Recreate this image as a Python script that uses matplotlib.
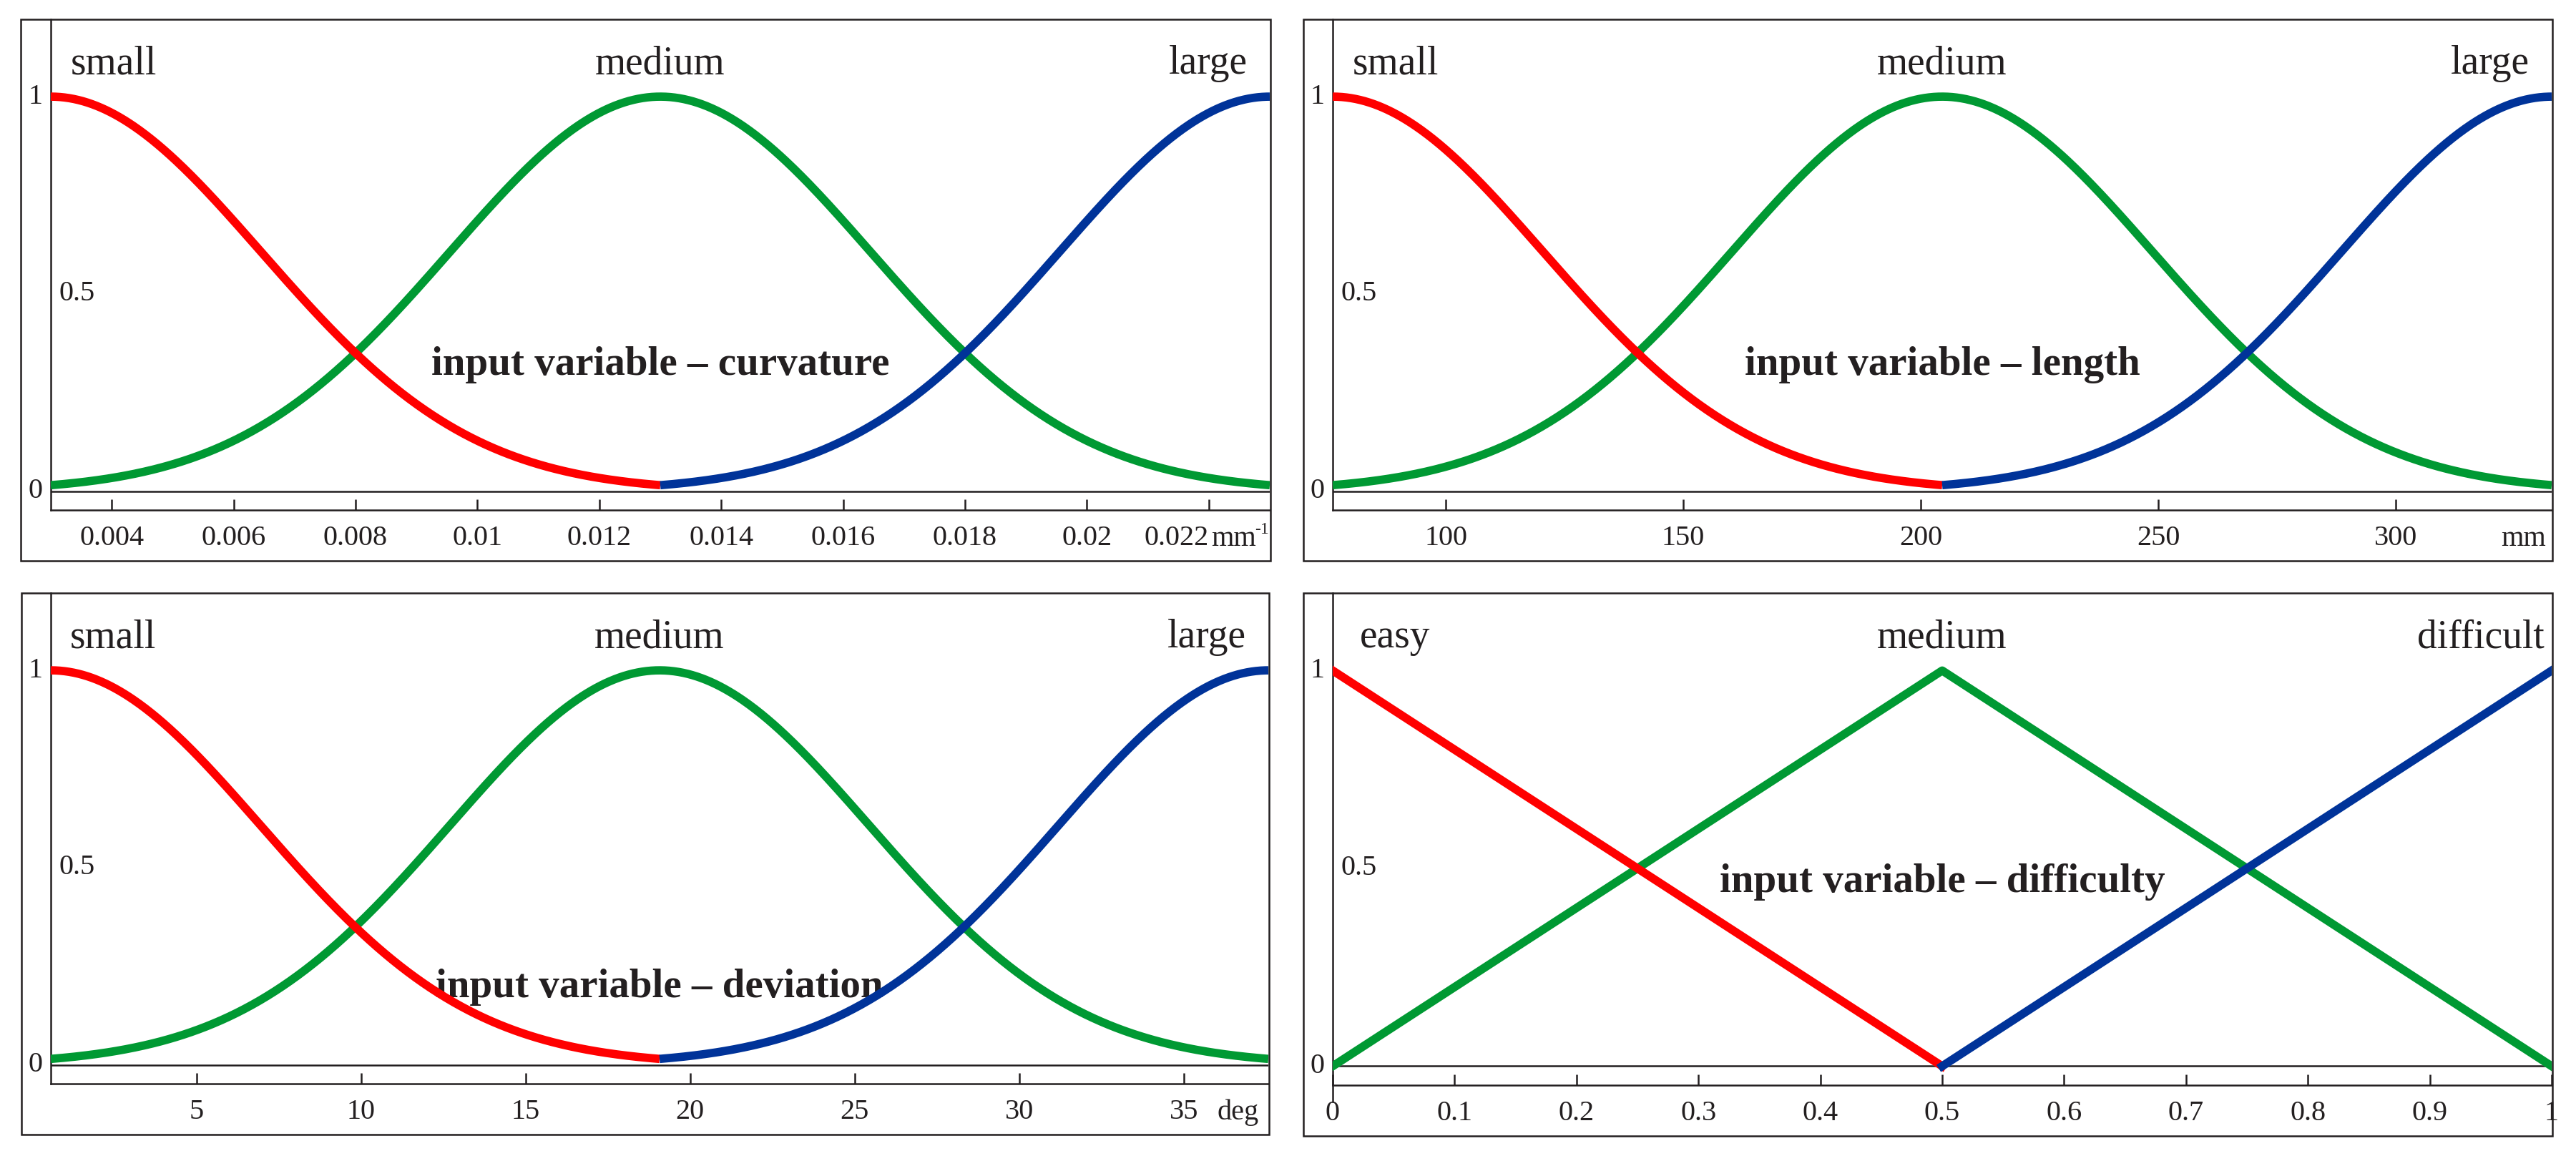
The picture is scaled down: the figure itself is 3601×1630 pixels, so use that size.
import numpy as np
import matplotlib
matplotlib.use("Agg")
import matplotlib.pyplot as plt
from matplotlib.patches import Rectangle
from matplotlib.transforms import blended_transform_factory

plt.rcParams['font.family'] = ['Liberation Serif', 'DejaVu Serif']

INK = '#231f20'
RED = '#ff0000'
GREEN = '#009933'
BLUE = '#003399'

# curvature (mm^-1): gaussian membership functions
curv_centers = [0.003, 0.013, 0.023]
curv_sigma = 0.00345
curv_ticks = [0.004, 0.006, 0.008, 0.010, 0.012, 0.014, 0.016, 0.018, 0.020, 0.022]
curv_ticklabels = ['0.004', '0.006', '0.008', '0.01', '0.012', '0.014', '0.016', '0.018', '0.02', '0.022']

# length (mm)
len_centers = [76.2, 204.5, 332.8]
len_sigma = 44.3
len_ticks = [100, 150, 200, 250, 300]
len_ticklabels = ['100', '150', '200', '250', '300']

# deviation (deg)
dev_centers = [0.57, 19.07, 37.57]
dev_sigma = 6.38
dev_ticks = [5, 10, 15, 20, 25, 30, 35]
dev_ticklabels = ['5', '10', '15', '20', '25', '30', '35']

# difficulty: triangular membership functions
diff_easy_x = [0, 0.5]
diff_easy_y = [1, 0]
diff_medium_x = [0, 0.5, 1]
diff_medium_y = [0, 1, 0]
diff_difficult_x = [0.5, 1]
diff_difficult_y = [0, 1]
diff_ticks = [0, 0.1, 0.2, 0.3, 0.4, 0.5, 0.6, 0.7, 0.8, 0.9, 1]
diff_ticklabels = ['0', '0.1', '0.2', '0.3', '0.4', '0.5', '0.6', '0.7', '0.8', '0.9', '1']

W, H = 3601, 1630
fig = plt.figure(figsize=(W / 100, H / 100), dpi=100)

YLIM = (-0.048, 1.196)
LW_FRAME = 1.8
LW_CURVE = 8.4


def add_panel(inner, outer):
    l, t, r, b = inner
    ax = fig.add_axes([l / W, 1 - b / H, (r - l) / W, (b - t) / H])
    ol, ot, orr, ob = outer
    fig.add_artist(Rectangle((ol / W, 1 - ob / H), (orr - ol) / W, (ob - ot) / H,
                             transform=fig.transFigure, fill=False,
                             lw=LW_FRAME, ec=INK, zorder=5))
    return ax


def setup(ax, xlim, ticks, ticklabels):
    ax.set_xlim(xlim)
    ax.set_ylim(YLIM)
    ax.spines['top'].set_visible(False)
    ax.spines['right'].set_visible(False)
    for s in ('left', 'bottom'):
        ax.spines[s].set_linewidth(LW_FRAME)
        ax.spines[s].set_color(INK)
    ax.axhline(0, color=INK, lw=LW_FRAME, zorder=1)
    ax.set_xticks(ticks, ticklabels)
    ax.set_yticks([])
    ax.tick_params(axis='x', direction='in', length=11, width=LW_FRAME,
                   pad=15, labelsize=29, colors=INK)
    tr = blended_transform_factory(ax.transAxes, ax.transData)
    ax.text(-0.0125, 1, '1', transform=tr, ha='center', va='center', fontsize=29, color=INK)
    ax.text(-0.0125, 0, '0', transform=tr, ha='center', va='center', fontsize=29, color=INK)
    ax.text(0.007, 0.5, '0.5', transform=tr, ha='left', va='center', fontsize=29, color=INK)
    return tr


def gauss(x, c, s):
    return np.exp(-(x - c) ** 2 / (2 * s ** 2))


def gauss_panel(ax, centers, sigma, labels, title, title_y):
    c0, c1, c2 = centers
    tr = setup(ax, (c0, c2), *labels)
    xs = np.linspace(c0, c1, 400)
    xm = np.linspace(c0, c2, 800)
    xl = np.linspace(c1, c2, 400)
    ax.plot(xm, gauss(xm, c1, sigma), color=GREEN, lw=LW_CURVE, solid_capstyle='butt', zorder=3)
    ax.plot(xs, gauss(xs, c0, sigma), color=RED, lw=LW_CURVE, solid_capstyle='butt', zorder=4)
    ax.plot(xl, gauss(xl, c2, sigma), color=BLUE, lw=LW_CURVE, solid_capstyle='butt', zorder=4)
    ax.text(0.016, 1.058, 'small', transform=tr, ha='left', va='baseline', fontsize=40, color=INK)
    ax.text(c1, 1.058, 'medium', ha='center', va='baseline', fontsize=40, color=INK)
    ax.text(0.982, 1.058, 'large', transform=tr, ha='right', va='baseline', fontsize=40, color=INK)
    ax.text(c1, title_y, title, ha='center', va='center', fontsize=41,
            fontweight='bold', color=INK)


# panel 1: curvature
ax1 = add_panel((71, 27, 1775, 713), (29, 27, 1776, 784))
gauss_panel(ax1, curv_centers, curv_sigma, (curv_ticks, curv_ticklabels),
            'input variable \u2013 curvature', 0.32)
ax1.get_xticklabels()[-1].set_horizontalalignment('right')
ax1.text(0.952, -0.073, 'mm', transform=ax1.transAxes, ha='left', va='baseline',
         fontsize=29, color=INK)
ax1.text(0.988, -0.048, '-1', transform=ax1.transAxes, ha='left', va='baseline',
         fontsize=17, color=INK)

# panel 2: length
ax2 = add_panel((1863, 27, 3567, 713), (1822, 27, 3568, 784))
gauss_panel(ax2, len_centers, len_sigma, (len_ticks, len_ticklabels),
            'input variable \u2013 length', 0.32)
ax2.text(0.995, -0.073, 'mm', transform=ax2.transAxes, ha='right', va='baseline',
         fontsize=29, color=INK)

# panel 3: deviation
ax3 = add_panel((71, 829, 1773, 1515), (30, 829, 1774, 1586))
gauss_panel(ax3, dev_centers, dev_sigma, (dev_ticks, dev_ticklabels),
            'input variable \u2013 deviation', 0.196)
ax3.text(0.992, -0.073, 'deg', transform=ax3.transAxes, ha='right', va='baseline',
         fontsize=29, color=INK)

# panel 4: difficulty
ax4 = add_panel((1863, 829, 3567, 1517), (1822, 829, 3568, 1588))
tr4 = setup(ax4, (0, 1), diff_ticks, diff_ticklabels)
ax4.spines['left'].set_bounds(-0.09, YLIM[1])
ax4.plot(diff_medium_x, diff_medium_y, color=GREEN, lw=LW_CURVE, zorder=3)
ax4.plot(diff_easy_x, diff_easy_y, color=RED, lw=LW_CURVE, zorder=4)
ax4.plot(diff_difficult_x, diff_difficult_y, color=BLUE, lw=LW_CURVE, zorder=4)
ax4.text(0.022, 1.058, 'easy', transform=tr4, ha='left', va='baseline', fontsize=40, color=INK)
ax4.text(0.5, 1.058, 'medium', ha='center', va='baseline', fontsize=40, color=INK)
ax4.text(0.994, 1.058, 'difficult', transform=tr4, ha='right', va='baseline', fontsize=40, color=INK)
ax4.text(0.5, 0.466, 'input variable \u2013 difficulty', ha='center', va='center',
         fontsize=41, fontweight='bold', color=INK)

fig.savefig('out.png', dpi=100, facecolor='white')
